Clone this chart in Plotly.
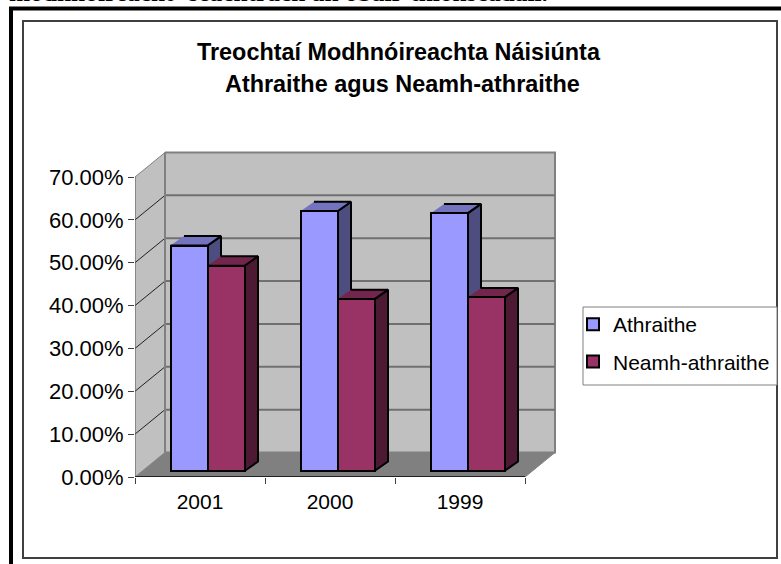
import plotly.graph_objects as go

# ---- data ----
categories = ["2001", "2000", "1999"]
athraithe = [52.6, 60.6, 60.1]
neamh_athraithe = [47.9, 40.1, 40.5]
y_ticks = [0, 10, 20, 30, 40, 50, 60, 70]
series_names = ["Athraithe", "Neamh-athraithe"]
title_lines = ["Treochtaí Modhnóireachta Náisiúnta", "Athraithe agus Neamh-athraithe"]
top_text = "modhnóireacht- seachtrach an obair-thionscadail."

# ---- geometry / style ----
W, H = 781, 564
PX_X = 130.0          # pixels per category
PX_Y = 300.0 / 70     # pixels per percent
AX_L, AX_B = 135, 477
AX_R_EXT, AX_T_EXT = 562, 148
WALL_DX = 30 / PX_X
WALL_DY = 24.5 / PX_Y
BAR_DX = 13.5 / PX_X
BAR_DY = 9.5 / PX_Y
BASE = 6 / PX_Y
BAR_W = 37 / PX_X
GROUP_SHIFT = 7.5 / PX_X
FONT = "Liberation Sans, Arial, sans-serif"

fig = go.Figure()


def poly(xs, ys, fill, line="black", lw=1.0, z=0):
    fig.add_trace(go.Scatter(
        x=xs, y=ys, mode="lines", fill="toself", fillcolor=fill,
        line=dict(color=line, width=lw), showlegend=False, hoverinfo="skip",
        cliponaxis=False, zorder=z))


def seg(xs, ys, color, lw, z=0):
    fig.add_trace(go.Scatter(
        x=xs, y=ys, mode="lines", line=dict(color=color, width=lw),
        showlegend=False, hoverinfo="skip", cliponaxis=False, zorder=z))


n = len(categories)
top = y_ticks[-1]
# walls and floor
poly([WALL_DX, n + WALL_DX, n + WALL_DX, WALL_DX], [WALL_DY, WALL_DY, top + WALL_DY, top + WALL_DY],
     "#C0C0C0", "#808080", 2)
poly([0, WALL_DX, WALL_DX, 0], [0, WALL_DY, top + WALL_DY, top], "#C0C0C0", "#808080", 1)
poly([0, n, n + WALL_DX, WALL_DX], [0, 0, WALL_DY, WALL_DY], "#808080", "#808080", 1)
for v in y_ticks[1:-1]:
    seg([WALL_DX, n + WALL_DX], [v + WALL_DY, v + WALL_DY], "#707070", 2)
    seg([0, WALL_DX], [v, v + WALL_DY], "#202020", 1)
seg([WALL_DX, WALL_DX], [WALL_DY, top + WALL_DY], "#808080", 2)
# axis lines
seg([0, 0], [0, top], "#505050", 1, z=9)
seg([0, n], [0, 0], "#202020", 2, z=9)

# bars
series = [
    (athraithe, "#9999FF", "#7373BF", "#4D4D80", -1),
    (neamh_athraithe, "#993366", "#73264D", "#4D1933", 0),
]
for s, (vals, front, topc, side, off) in enumerate(series):
    z = 1 + 2 * s
    xs = [i + 0.5 + GROUP_SHIFT + (off + 0.5) * BAR_W for i in range(n)]
    for x, v in zip(xs, vals):
        l, r = x - BAR_W / 2, x + BAR_W / 2
        t = BASE + v
        poly([r, r + BAR_DX, r + BAR_DX, r], [BASE, BASE + BAR_DY, t + BAR_DY, t], side, "black", 2, z)
        poly([l, r, r + BAR_DX, l + BAR_DX], [t, t, t + BAR_DY, t + BAR_DY], topc, "black", 2, z)
    fig.add_trace(go.Bar(
        x=xs, y=vals, base=BASE, width=BAR_W, name=series_names[s],
        legendgroup=series_names[s],
        marker=dict(color=front, line=dict(color="black", width=2)),
        cliponaxis=False, zorder=z + 1))

# frame, chart border and legend box
shapes = [
    dict(type="line", xref="paper", yref="paper", x0=11 / W, x1=11 / W, y0=0, y1=1 - 7 / H,
         line=dict(color="black", width=4), layer="below"),
    dict(type="line", xref="paper", yref="paper", x0=9 / W, x1=1, y0=1 - 8.5 / H, y1=1 - 8.5 / H,
         line=dict(color="black", width=4), layer="below"),
    dict(type="rect", xref="paper", yref="paper", x0=23 / W, x1=777 / W, y0=1 - 558 / H, y1=1 - 21 / H,
         line=dict(color="#404040", width=2), fillcolor="white", layer="below"),
    dict(type="rect", xref="paper", yref="paper", x0=583 / W, x1=777 / W, y0=1 - 385 / H, y1=1 - 307 / H,
         line=dict(color="#808080", width=1), fillcolor="white", layer="below"),
]

annotations = [
    dict(text="<b>%s</b>" % title_lines[0], x=399 / W, y=1 - 52 / H, xref="paper", yref="paper",
         showarrow=False, xanchor="center", yanchor="middle", font=dict(family=FONT, size=23.4, color="black")),
    dict(text="<b>%s</b>" % title_lines[1], x=402 / W, y=1 - 84 / H, xref="paper", yref="paper",
         showarrow=False, xanchor="center", yanchor="middle", font=dict(family=FONT, size=23.4, color="black")),
    dict(text="<b>%s</b>" % top_text, x=8 / W, y=1 - 7 / H, xref="paper", yref="paper",
         showarrow=False, xanchor="left", yanchor="bottom", borderpad=0,
         font=dict(family="Liberation Serif, Times New Roman, serif", size=25.4, color="black")),
]

fig.update_layout(
    width=W, height=H, margin=dict(l=0, r=0, t=0, b=0), autosize=False,
    paper_bgcolor="white", plot_bgcolor="rgba(0,0,0,0)",
    barmode="overlay", bargap=0,
    font=dict(family=FONT, size=20, color="black"),
    shapes=shapes, annotations=annotations,
    showlegend=True,
    legend=dict(x=573 / W, y=1 - 304 / H, xanchor="left", yanchor="top",
                bgcolor="rgba(0,0,0,0)", borderwidth=0, traceorder="grouped",
                tracegroupgap=7, font=dict(family=FONT, size=21, color="black")),
    xaxis=dict(domain=[AX_L / W, AX_R_EXT / W], range=[0, (AX_R_EXT - AX_L) / PX_X],
               automargin=False,
               tickmode="array", tickvals=[i + 0.5 for i in range(n)], ticktext=categories,
               ticks="", ticklabelstandoff=10, showgrid=False, zeroline=False, showline=False,
               tickfont=dict(family=FONT, size=21),
               minor=dict(tickmode="array", tickvals=list(range(n + 1)), ticks="outside", ticklen=6,
                          tickcolor="#404040", tickwidth=1, showgrid=False),
               fixedrange=True),
    yaxis=dict(domain=[1 - AX_B / H, 1 - AX_T_EXT / H], range=[0, (AX_B - AX_T_EXT) / PX_Y],
               automargin=False,
               tickmode="array", tickvals=y_ticks, ticktext=["%.2f%%" % v for v in y_ticks],
               ticks="outside", ticklen=6, tickcolor="#404040", tickwidth=1, showgrid=False,
               zeroline=False, showline=False, tickfont=dict(family=FONT, size=22), fixedrange=True),
)

fig.write_html("out.html", config={"displayModeBar": False},
               post_script="document.body.style.margin='0';")
